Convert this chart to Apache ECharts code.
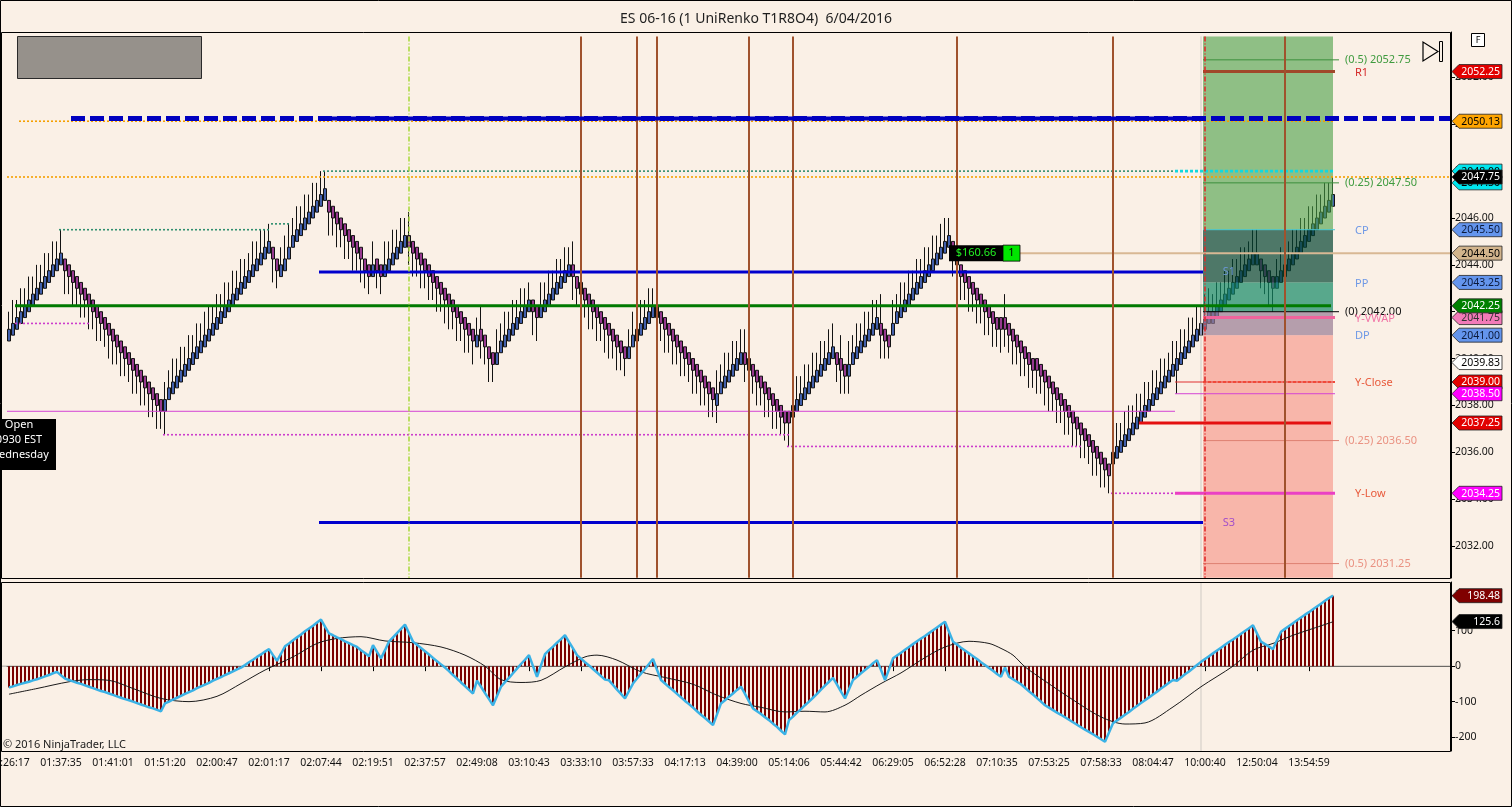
<!DOCTYPE html>
<html>
<head>
<meta charset="utf-8">
<title>ES 06-16 UniRenko</title>
<script src="https://cdn.jsdelivr.net/npm/echarts/dist/echarts.min.js"></script>
<style>
  html, body { margin: 0; padding: 0; background: #FAF0E6; }
  #chart { width: 1512px; height: 807px; }
</style>
</head>
<body>
<div id="chart"></div>
<script>
// ---- values ----
const tickLabels = ['01:26:17', '01:37:35', '01:41:01', '01:51:20', '02:00:47', '02:01:17', '02:07:44',
  '02:19:51', '02:37:57', '02:49:08', '03:10:43', '03:33:10', '03:57:33', '04:17:13', '04:39:00',
  '05:14:06', '05:44:42', '06:29:05', '06:52:28', '07:10:35', '07:53:25', '07:58:33', '08:04:47',
  '10:00:40', '12:50:04', '13:54:59'];
const tickEvery = 13;   // one time label every 13 bricks
const slotCount = 361;  // bricks plus the empty space right of the last one

// brick closes, 10 per row
const closes = [
  2041.25, 2041.5, 2041.75, 2042, 2042.25, 2042.5, 2042.75, 2043, 2043.25, 2043.5,
  2043.75, 2044, 2044.25, 2044.5, 2043.75, 2043.5, 2043.25, 2043, 2042.75, 2042.5,
  2042.25, 2042, 2041.75, 2041.5, 2041.25, 2041, 2040.75, 2040.5, 2040.25, 2040,
  2039.75, 2039.5, 2039.25, 2039, 2038.75, 2038.5, 2038.25, 2038, 2037.75, 2038.25,
  2038.75, 2039, 2039.25, 2039.5, 2039.75, 2040, 2040.25, 2040.5, 2040.75, 2041,
  2041.25, 2041.5, 2041.75, 2042, 2042.25, 2042.5, 2042.75, 2043, 2043.25, 2043.5,
  2043.75, 2044, 2044.25, 2044.5, 2044.75, 2045, 2044.25, 2043.75, 2044, 2044.25,
  2044.75, 2045.25, 2045.5, 2045.75, 2046, 2046.25, 2046.5, 2046.75, 2047, 2047.25,
  2046.25, 2046, 2045.75, 2045.5, 2045.25, 2045, 2044.75, 2044.5, 2044.25, 2043.75,
  2043.5, 2044, 2043.75, 2043.5, 2044, 2044.25, 2044.5, 2044.75, 2045, 2045.25,
  2044.75, 2044.5, 2044.25, 2044, 2043.75, 2043.5, 2043.25, 2043, 2042.75, 2042.5,
  2042.25, 2042, 2041.75, 2041.5, 2041.25, 2041, 2040.75, 2041, 2040.75, 2040.5,
  2040, 2039.75, 2040.25, 2040.75, 2041, 2041.25, 2041.5, 2041.75, 2042, 2042.25,
  2042.5, 2042, 2041.75, 2042.25, 2042.5, 2042.75, 2043, 2043.25, 2043.5, 2043.75,
  2044, 2043.5, 2043, 2042.75, 2042.5, 2042.25, 2042, 2041.75, 2041.5, 2041.25,
  2041, 2040.75, 2040.5, 2040.25, 2040, 2040.5, 2041, 2041.25, 2041.5, 2041.75,
  2042, 2042.25, 2041.75, 2041.5, 2041.25, 2041, 2040.75, 2040.5, 2040.25, 2040,
  2039.75, 2039.5, 2039.25, 2039, 2038.75, 2038.5, 2038.25, 2038.5, 2039, 2039.25,
  2039.5, 2039.75, 2040, 2040.25, 2039.75, 2039.5, 2039.25, 2039, 2038.75, 2038.5,
  2038.25, 2038, 2037.75, 2037.5, 2037.25, 2037.25, 2038, 2038.25, 2038.5, 2038.75,
  2039, 2039.25, 2039.5, 2039.75, 2040, 2040.25, 2040.5, 2039.75, 2039.5, 2039.25,
  2039.75, 2040.25, 2040.5, 2040.75, 2041, 2041.25, 2041.5, 2041.75, 2041, 2040.75,
  2040.5, 2041.5, 2042, 2042.25, 2042.5, 2042.75, 2043, 2043.25, 2043.5, 2043.75,
  2044, 2044.25, 2044.5, 2044.75, 2045, 2045.25, 2044.5, 2044, 2043.5, 2043.25,
  2043, 2042.75, 2042.5, 2042.25, 2042, 2041.75, 2041.5, 2041.25, 2041.25, 2041.25,
  2041, 2040.75, 2040.5, 2040.25, 2040, 2039.75, 2039.5, 2039.5, 2039.25, 2039,
  2038.75, 2038.5, 2038.25, 2038, 2037.75, 2037.5, 2037.25, 2037, 2036.75, 2036.5,
  2036.25, 2036, 2035.75, 2035.5, 2035.25, 2035, 2036, 2036.25, 2036.5, 2036.75,
  2037, 2037.25, 2037.5, 2037.75, 2038, 2038.25, 2038.5, 2038.75, 2039, 2039.25,
  2039.5, 2039.75, 2040, 2040.25, 2040.5, 2040.75, 2041, 2041.25, 2041.5, 2041.75,
  2042, 2042, 2042.25, 2042.5, 2042.75, 2043, 2043.25, 2043.5, 2043.75, 2044,
  2044.25, 2044.5, 2044.5, 2043.75, 2043.5, 2043.25, 2043, 2043.5, 2043.75, 2044,
  2044.25, 2044.5, 2044.75, 2045, 2045.25, 2045.5, 2045.75, 2046, 2046.25, 2046.5,
  2046.75, 2047
];
// brick colour runs: u = up (blue), d = down (purple)
const dirRuns = [['u', 14], ['d', 25], ['u', 27], ['d', 2], ['u', 12], ['d', 11], ['u', 1], ['d', 2],
  ['u', 6], ['d', 17], ['u', 1], ['d', 4], ['u', 9], ['d', 2], ['u', 8], ['d', 14], ['u', 7], ['d', 15],
  ['u', 7], ['d', 12], ['u', 11], ['d', 3], ['u', 8], ['d', 3], ['u', 15], ['d', 40], ['u', 37], ['d', 4], ['u', 15]];
const bodyTicks = 2;    // body height of a brick, in ticks
const tickSize = 0.25;
// wick length beyond the body on the trend side, in ticks, 10 bricks per row
const tailRows = ['3434343434', '3434434343', '4343344343', '3434343433', '3434343434', '4343434343',
  '3434334334', '4343434343', '4343434343', '3433434343', '3434343434', '4343434343', '4343434343',
  '3444343434', '3434343434', '4343334343', '4343434343', '3434343434', '3434343434', '3433343434',
  '3434344343', '4343434343', '2434343434', '3434434343', '4343434343', '3434343434', '4343434343',
  '3434333434', '4343434343', '3434343434', '4343434343', '3443344343', '3434343434', '33'];
// bricks with a wick on the other side too: [brick, low, high]
const wickFix = [[39, 2036.75, null], [100, null, 2046.25], [118, 2040.0, 2042.25], [141, null, 2045.0],
  [177, 2037.25, null], [184, null, 2041.25], [208, null, 2041.0], [210, 2038.5, null],
  [218, null, 2042.75], [249, null, 2042.75], [292, 2038.5, null]];

// lower panel histogram, 10 per row
const osc = [
  -60, -57, -53, -50, -47, -44, -40, -37, -33, -29,
  -25, -20, -16, -26, -35, -39, -43, -47, -50, -54,
  -58, -62, -66, -70, -73, -77, -81, -85, -89, -93,
  -96, -100, -104, -108, -112, -116, -119, -123, -127, -105,
  -100, -94, -89, -84, -78, -73, -68, -62, -57, -52,
  -47, -41, -36, -31, -25, -20, -15, -9, -4, 3,
  11, 18, 26, 33, 41, 48, 31, 15, 35, 56,
  64, 73, 81, 89, 98, 106, 114, 123, 131, 111,
  92, 87, 81, 76, 70, 65, 59, 54, 45, 37,
  28, 59, 40, 22, 45, 69, 81, 93, 105, 117,
  93, 69, 60, 51, 42, 33, 23, 14, 5, -4,
  -14, -25, -35, -46, -56, -67, -77, -41, -58, -76,
  -93, -110, -84, -58, -45, -33, -20, -7, 6, 18,
  31, 0, -30, 2, 34, 45, 55, 66, 76, 87,
  68, 50, 31, 21, 11, 2, -8, -18, -28, -38,
  -40, -53, -66, -78, -91, -70, -49, -35, -21, -8,
  6, 20, -10, -39, -49, -59, -68, -78, -88, -98,
  -107, -117, -127, -137, -146, -156, -166, -136, -105, -96,
  -86, -77, -67, -58, -78, -99, -119, -127, -135, -144,
  -152, -162, -171, -182, -192, -152, -142, -131, -121, -110,
  -100, -89, -78, -66, -55, -44, -33, -52, -72, -91,
  -65, -39, -30, -20, -11, -2, 8, 17, -11, -39,
  -9, 22, 30, 38, 46, 54, 62, 70, 78, 85,
  93, 101, 109, 117, 125, 97, 69, 61, 52, 44,
  36, 28, 20, 11, 3, -5, -13, -22, -30, -4,
  -30, -37, -44, -51, -61, -71, -80, -90, -100, -110,
  -117, -124, -131, -137, -144, -151, -158, -165, -172, -179,
  -185, -192, -199, -206, -213, -187, -161, -153, -145, -137,
  -129, -120, -112, -104, -96, -88, -80, -72, -63, -55,
  -47, -39, -41, -32, -23, -15, -6, 3, 12, 20,
  28, 36, 44, 52, 60, 68, 75, 83, 91, 99,
  107, 115, 92, 69, 62, 55, 48, 73, 97, 105,
  113, 121, 129, 137, 145, 152, 160, 168, 176, 184,
  192, 198.48
];
// signal line, read at [brick, value]
const signalPts = [[0, -79], [7, -63], [15, -44], [20, -38], [25, -40], [31, -63], [38, -91], [45, -100],
  [52, -85], [58, -49], [64, -11], [71, 26], [77, 64], [82, 78], [88, 83], [94, 71], [101, 66], [108, 54],
  [114, 31], [119, 0], [123, -38], [128, -46], [133, -40], [139, -2], [144, 26], [147, 31], [152, 17],
  [158, -16], [164, -32], [171, -51], [177, -82], [183, -105], [188, -116], [194, -129], [199, -127],
  [204, -129], [209, -110], [213, -82], [218, -49], [223, -19], [229, 24], [234, 54], [240, 70], [245, 64],
  [248, 50], [251, 31], [254, -2], [259, -42], [266, -95], [273, -143], [279, -163], [284, -160],
  [291, -115], [298, -58], [306, 0], [311, 45], [316, 64], [321, 87], [326, 106], [331, 125]];

// horizontal levels: [price, fromBrick, toBrick]
const blueDashed = [[2050.25, 16, 360]];
const blueBand = [[2050.25, 78, 296]];
const orangeDots = [[2050.13, 3, 331], [2047.75, 0, 360]];
const tealDots = [[2048.0, 79, 292], [2045.5, 13, 65], [2045.75, 66, 70]];
const cyanDots = [[2048.0, 292, 331]];
const cpEdge = [[2045.5, 299, 331]];
const magentaDots = [[2041.5, 2, 20], [2036.75, 39, 195], [2036.25, 195, 268], [2034.25, 276, 292]];
const pivotLines = [[2043.7, 78, 298], [2033.0, 78, 298]];
const greenLine = [[2042.25, 2, 330]];
const magentaThin = [[2037.75, 0, 291], [2038.5, 292, 331]];
const stopLine = [[2037.25, 283, 330]];
const yLowLine = [[2034.25, 292, 331]];
const yCloseLine = [[2039.0, 292, 331]];
const yCloseDots = [[2039.0, 299, 331]];
const entryLine = [[2044.5, 253, 360]];
const vwapLine = [[2041.75, 299, 331]];
const r1Line = [[2052.25, 299, 331]];
const fibUp = [[2052.75, 299, 332], [2047.5, 299, 332]];
const fibZero = [[2042.0, 299, 332]];
const fibDown = [[2036.5, 299, 332], [2031.25, 299, 332]];

// target / stop zone and pivot bands
const zoneFrom = 299, zoneTo = 331;
const zoneTop = 2053.75, zoneBottom = 2030.65;
const bandEdges = [2053.75, 2045.5, 2043.25, 2042.0, 2041.0, 2030.65];

// vertical markers (brick index)
const brownBars = [143, 157, 162, 185, 196, 237, 276, 319];
const limeBar = 100, redDashBar = 299, sessionBar = 298;

// texts
const zoneNames = [['R1', 2052.25], ['CP', 2045.5], ['PP', 2043.25], ['Y-VWAP', 2041.75], ['DP', 2041.0],
  ['Y-Close', 2039.0], ['Y-Low', 2034.25]];
const fibNames = [['(0.5) 2052.75', 2052.75], ['(0.25) 2047.50', 2047.5], ['(0) 2042.00', 2042.0],
  ['(0.25) 2036.50', 2036.5], ['(0.5) 2031.25', 2031.25]];
const pivotNames = [['S1', 2043.7], ['S3', 2033.0]];
const pnlText = ['$160.66', '1'];
const pnlAt = [235, 2044.5];

// price markers on the right axis, back to front
const priceTags = [[2052.25, 'red'], [2050.13, 'orange'], [2048.0, 'cyan'], [2047.5, 'cyan'], [2047.75, 'last'],
  [2045.5, 'pivot'], [2044.5, 'entry'], [2043.25, 'pivot'], [2041.75, 'vwap'], [2042.25, 'green'],
  [2041.0, 'pivot'], [2039.83, 'white'], [2039.0, 'red'], [2038.5, 'magenta'], [2037.25, 'red'],
  [2034.25, 'magenta']];
const oscTags = [[198.48, '198.48', 'osc'], [125.6, '125.6', 'last']];

// ---- build ----
const FONT = '"Noto Sans", "Open Sans", Arial, sans-serif';
const tagLook = {
  red: ['#E20000', '#fff'], orange: ['#FFA500', '#000'], cyan: ['#00E6EE', '#000'], last: ['#000', '#fff'],
  pivot: ['#6495ED', '#0B1A3C'], entry: ['#D2B48C', '#000'], vwap: ['#F27AB8', '#333'], green: ['#008000', '#fff'],
  white: ['#fff', '#000'], magenta: ['#FF00FF', '#fff'], osc: ['#800000', '#fff']
};

const dirs = [];
dirRuns.forEach(([d, n]) => { for (let k = 0; k < n; k++) dirs.push(d); });
const tails = tailRows.join('');
const candles = closes.map((c, i) => {
  const up = dirs[i] === 'u';
  const o = up ? c - bodyTicks * tickSize : c + bodyTicks * tickSize;
  const t = Number(tails[i]) * tickSize;
  return [o, c, up ? o : c - t, up ? c + t : o];
});
wickFix.forEach(([i, lo, hi]) => {
  if (lo != null) candles[i][2] = lo;
  if (hi != null) candles[i][3] = hi;
});

const cats = [];
for (let i = 0; i < slotCount; i++) cats.push(String(i));
const tickShown = (i) => i % tickEvery === 0 && i / tickEvery < tickLabels.length;

function txt(text, x, y, fill, size, align) {
  return {
    type: 'text',
    style: {
      text: text, x: x, y: y, fill: fill, font: size + 'px ' + FONT,
      textAlign: align, align: align, textVerticalAlign: 'middle', verticalAlign: 'middle'
    }
  };
}

function tagShape(x0, y, text, look) {
  const h = 7, tip = 7, right = x0 + 50;
  return [
    {
      type: 'polygon',
      shape: { points: [[x0, y], [x0 + tip, y - h], [right, y - h], [right, y + h], [x0 + tip, y + h]] },
      style: { fill: look[0], stroke: '#222', lineWidth: 0.8 }
    },
    txt(text, right - 2, y + 0.5, look[1], 10.5, 'right')
  ];
}

function renderZones(params, api) {
  if (params.dataIndex) return null;
  const fills = ['rgba(71,158,68,0.6)', 'rgba(4,69,50,0.7)', 'rgba(18,137,101,0.7)',
    'rgba(151,123,147,0.7)', 'rgba(246,143,130,0.6)'];
  const w = api.size([1, 0])[0];
  const x1 = api.coord([zoneFrom, 2040])[0] - w / 2;
  const x2 = api.coord([zoneTo, 2040])[0];
  const kids = [];
  for (let k = 0; k < bandEdges.length - 1; k++) {
    const y1 = api.coord([0, bandEdges[k]])[1];
    const y2 = api.coord([0, bandEdges[k + 1]])[1];
    kids.push({ type: 'rect', shape: { x: x1, y: y1, width: x2 - x1, height: y2 - y1 }, style: { fill: fills[k] } });
  }
  return { type: 'group', children: kids };
}

function renderLines(params, api) {
  if (params.dataIndex) return null;
  const w = api.size([1, 0])[0];
  const X = (i) => api.coord([i, 2040])[0];
  const Y = (v) => api.coord([0, v])[1];
  const kids = [];
  const horiz = (list, style) => list.forEach(([v, a, b]) => kids.push({
    type: 'line', shape: { x1: X(a) - w / 2, y1: Y(v), x2: X(b) + w / 2, y2: Y(v) }, style: Object.assign({}, style)
  }));
  const vert = (list, style) => list.forEach((i) => kids.push({
    type: 'line', shape: { x1: X(i), y1: Y(zoneTop), x2: X(i), y2: Y(zoneBottom) }, style: Object.assign({}, style)
  }));
  vert([sessionBar], { stroke: '#CFCAC4', lineWidth: 1 });
  horiz(fibUp, { stroke: '#3C8F3C', lineWidth: 1 });
  horiz(fibZero, { stroke: '#000', lineWidth: 1 });
  horiz(fibDown, { stroke: '#DE8272', lineWidth: 1 });
  horiz(cpEdge, { stroke: '#48C8D0', lineWidth: 1 });
  horiz(magentaThin, { stroke: '#D444D4', lineWidth: 1 });
  horiz(magentaDots, { stroke: '#CC3CCC', lineWidth: 1.6, lineDash: [2, 2] });
  horiz(tealDots, { stroke: '#2F8F6F', lineWidth: 1.6, lineDash: [2, 2] });
  horiz(cyanDots, { stroke: '#10D8E0', lineWidth: 2.6, lineDash: [3, 2] });
  horiz(orangeDots, { stroke: '#F5A000', lineWidth: 1.6, lineDash: [2, 2] });
  horiz(pivotLines, { stroke: '#0000CD', lineWidth: 3 });
  horiz(greenLine, { stroke: '#007A00', lineWidth: 3 });
  horiz(entryLine, { stroke: '#D8B894', lineWidth: 2 });
  horiz(vwapLine, { stroke: '#F0649C', lineWidth: 3 });
  horiz(r1Line, { stroke: '#A0482A', lineWidth: 3 });
  horiz(stopLine, { stroke: '#E41010', lineWidth: 3 });
  horiz(yLowLine, { stroke: '#EA40C4', lineWidth: 3 });
  horiz(yCloseLine, { stroke: '#E03030', lineWidth: 1 });
  horiz(yCloseDots, { stroke: '#F04A3A', lineWidth: 2, lineDash: [3, 2] });
  vert(brownBars, { stroke: '#A0522D', lineWidth: 2 });
  vert([limeBar], { stroke: '#A6D838', lineWidth: 1.5, lineDash: [5, 2, 1, 2] });
  vert([redDashBar], { stroke: '#E02828', lineWidth: 1.6, lineDash: [5, 2, 1, 2] });
  horiz(blueBand, { stroke: '#0000C0', lineWidth: 4 });
  horiz(blueDashed, { stroke: '#0000C0', lineWidth: 5, lineDash: [14, 5] });
  return { type: 'group', children: kids };
}

function renderMainLabels(params, api) {
  if (params.dataIndex) return null;
  const w = api.size([1, 0])[0];
  const X = (i) => api.coord([i, 2040])[0];
  const Y = (v) => api.coord([0, v])[1];
  const cs = params.coordSys;
  const axisX = cs.x + cs.width;
  const kids = [];
  const nameColor = { 'R1': '#D42A2A', 'CP': '#6E98E6', 'PP': '#6E98E6', 'DP': '#6E98E6',
    'Y-VWAP': '#F274A6', 'Y-Close': '#E85A3C', 'Y-Low': '#E85A3C' };
  fibNames.forEach(([t, v]) => {
    const c = v > fibZero[0][0] ? '#3F9B3F' : (v < fibZero[0][0] ? '#EA9282' : '#111');
    kids.push(txt(t, X(334), Y(v), c, 11, 'left'));
  });
  zoneNames.forEach(([t, v]) => kids.push(txt(t, X(337) - w / 2, Y(v) + 1, nameColor[t], 11, 'left')));
  pivotNames.forEach(([t, v], k) => kids.push(txt(t, X(305), Y(v), k ? '#A24ECA' : '#6A96D2', 11, 'center')));
  const px = X(pnlAt[0]), py = Y(pnlAt[1]);
  kids.push({ type: 'rect', shape: { x: px, y: py - 8, width: 54, height: 16 }, style: { fill: '#000' } });
  kids.push(txt(pnlText[0], px + 27, py, '#22F022', 11, 'center'));
  kids.push({ type: 'rect', shape: { x: px + 54, y: py - 8, width: 17, height: 16 }, style: { fill: '#00E600', stroke: '#000', lineWidth: 0.8 } });
  kids.push(txt(pnlText[1], px + 62.5, py, '#000', 11, 'center'));
  priceTags.forEach(([v, look]) => tagShape(axisX + 1, Y(v), v.toFixed(2), tagLook[look]).forEach((e) => kids.push(e)));
  return { type: 'group', children: kids };
}

function renderOscGuides(params, api) {
  if (params.dataIndex) return null;
  const cs = params.coordSys;
  const y0 = api.coord([0, 0])[1];
  const xs = api.coord([sessionBar, 0])[0];
  return {
    type: 'group', children: [
      { type: 'line', shape: { x1: cs.x - 5, y1: y0, x2: cs.x + cs.width, y2: y0 }, style: { stroke: '#A9A5A0', lineWidth: 1 } },
      { type: 'line', shape: { x1: xs, y1: cs.y, x2: xs, y2: cs.y + cs.height }, style: { stroke: '#CFCAC4', lineWidth: 1 } }
    ]
  };
}

function renderOscTags(params, api) {
  if (params.dataIndex) return null;
  const cs = params.coordSys;
  const kids = [];
  oscTags.forEach(([v, t, look]) => tagShape(cs.x + cs.width + 1, api.coord([0, v])[1], t, tagLook[look]).forEach((e) => kids.push(e)));
  return { type: 'group', children: kids };
}

const chart = echarts.init(document.getElementById('chart'));
chart.setOption({
  animation: false,
  backgroundColor: '#FAF0E6',
  title: {
    text: 'ES 06-16 (1 UniRenko T1R8O4)  6/04/2016', left: 'center', top: 7,
    textStyle: { fontSize: 14, fontWeight: 'normal', color: '#1E1E1E', fontFamily: FONT }
  },
  grid: [
    { left: 7, right: 61, top: 32, height: 546, outerBoundsMode: 'none' },
    { left: 7, right: 61, top: 582, height: 169, outerBoundsMode: 'none' }
  ],
  xAxis: [
    { type: 'category', gridIndex: 0, data: cats, boundaryGap: true, show: false },
    {
      type: 'category', gridIndex: 1, data: cats, boundaryGap: true,
      axisLine: { show: true, lineStyle: { color: '#000' } },
      axisTick: { show: true, interval: tickShown, alignWithLabel: true, length: 5, lineStyle: { color: '#000' } },
      axisLabel: {
        interval: tickShown, formatter: (v) => tickLabels[Number(v) / tickEvery] || '',
        color: '#111', fontSize: 10.5, fontFamily: FONT, margin: 7
      },
      splitLine: { show: false }
    }
  ],
  yAxis: [
    {
      type: 'value', gridIndex: 0, position: 'right', min: 2030.635, max: 2053.938, splitNumber: 12,
      axisLine: { show: true, lineStyle: { color: '#000' } },
      axisTick: { show: true, length: 4, lineStyle: { color: '#000' } },
      splitLine: { show: false },
      axisLabel: {
        showMinLabel: false, showMaxLabel: false, formatter: (v) => v.toFixed(2),
        color: '#111', fontSize: 10.5, fontFamily: FONT, margin: 4
      }
    },
    {
      type: 'value', gridIndex: 1, position: 'right', min: -239, max: 237, splitNumber: 5,
      axisLine: { show: true, lineStyle: { color: '#000' } },
      axisTick: { show: true, length: 4, lineStyle: { color: '#000' } },
      splitLine: { show: false },
      axisLabel: { showMinLabel: false, showMaxLabel: false, color: '#111', fontSize: 10.5, fontFamily: FONT, margin: 4 }
    }
  ],
  graphic: {
    elements: [
      { type: 'rect', z: 50, shape: { x: 0.5, y: 0.5, width: 1511, height: 806 }, style: { fill: 'none', stroke: '#000', lineWidth: 1 } },
      { type: 'rect', z: 50, shape: { x: 1.5, y: 32.5, width: 1449, height: 546 }, style: { fill: 'none', stroke: '#000', lineWidth: 1 } },
      { type: 'rect', z: 50, shape: { x: 1.5, y: 582.5, width: 1449, height: 169 }, style: { fill: 'none', stroke: '#000', lineWidth: 1 } },
      { type: 'rect', z: 50, shape: { x: 17.5, y: 36.5, width: 184, height: 42 }, style: { fill: '#96918B', stroke: '#2A2A2A', lineWidth: 1 } },
      { type: 'rect', z: 50, shape: { x: -2, y: 419, width: 58, height: 51 }, style: { fill: '#000' } },
      Object.assign(txt('Open', 19, 425, '#fff', 11, 'center'), { z: 51 }),
      Object.assign(txt('0930 EST', 19, 440, '#fff', 11, 'center'), { z: 51 }),
      Object.assign(txt('Wednesday', 19, 455, '#fff', 11, 'center'), { z: 51 }),
      { type: 'rect', z: 50, shape: { x: 1471.5, y: 33.5, width: 13, height: 13 }, style: { fill: '#fff', stroke: '#000', lineWidth: 1 } },
      Object.assign(txt('F', 1478, 40.5, '#000', 9, 'center'), { z: 51 }),
      { type: 'polygon', z: 50, shape: { points: [[1423, 42], [1423, 61], [1438, 51.5]] }, style: { fill: 'none', stroke: '#000', lineWidth: 1.2 } },
      { type: 'rect', z: 50, shape: { x: 1439.5, y: 41.5, width: 3, height: 20 }, style: { fill: 'none', stroke: '#000', lineWidth: 1 } },
      Object.assign(txt('\u00A9 2016 NinjaTrader, LLC', 3, 745, '#1A1A1A', 11, 'left'), { z: 51 })
    ]
  },
  series: [
    {
      type: 'candlestick', name: 'ES', xAxisIndex: 0, yAxisIndex: 0, data: candles, barWidth: 3, z: 2, silent: true,
      itemStyle: { color: '#4260AC', color0: '#96398F', borderColor: '#121212', borderColor0: '#121212', borderWidth: 1 }
    },
    { type: 'custom', xAxisIndex: 0, yAxisIndex: 0, data: [[0, 2040]], z: 3, silent: true, clip: false, renderItem: renderZones },
    { type: 'custom', xAxisIndex: 0, yAxisIndex: 0, data: [[0, 2040]], z: 4, silent: true, clip: false, renderItem: renderLines },
    { type: 'custom', xAxisIndex: 0, yAxisIndex: 0, data: [[0, 2040]], z: 5, silent: true, clip: false, renderItem: renderMainLabels },
    { type: 'custom', xAxisIndex: 1, yAxisIndex: 1, data: [[0, 0]], z: 1, silent: true, clip: false, renderItem: renderOscGuides },
    { type: 'bar', xAxisIndex: 1, yAxisIndex: 1, data: osc, barWidth: 2, z: 2, silent: true, itemStyle: { color: '#7A0000' } },
    {
      type: 'line', xAxisIndex: 1, yAxisIndex: 1, data: signalPts, smooth: 0.3, symbol: 'none', showSymbol: false,
      z: 3, silent: true, lineStyle: { color: '#1A1A1A', width: 1 }
    },
    {
      type: 'line', xAxisIndex: 1, yAxisIndex: 1, data: osc, symbol: 'none', showSymbol: false,
      z: 4, silent: true, lineStyle: { color: '#3AB2E6', width: 2.5 }
    },
    { type: 'custom', xAxisIndex: 1, yAxisIndex: 1, data: [[0, 0]], z: 6, silent: true, clip: false, renderItem: renderOscTags }
  ]
});
</script>
</body>
</html>
